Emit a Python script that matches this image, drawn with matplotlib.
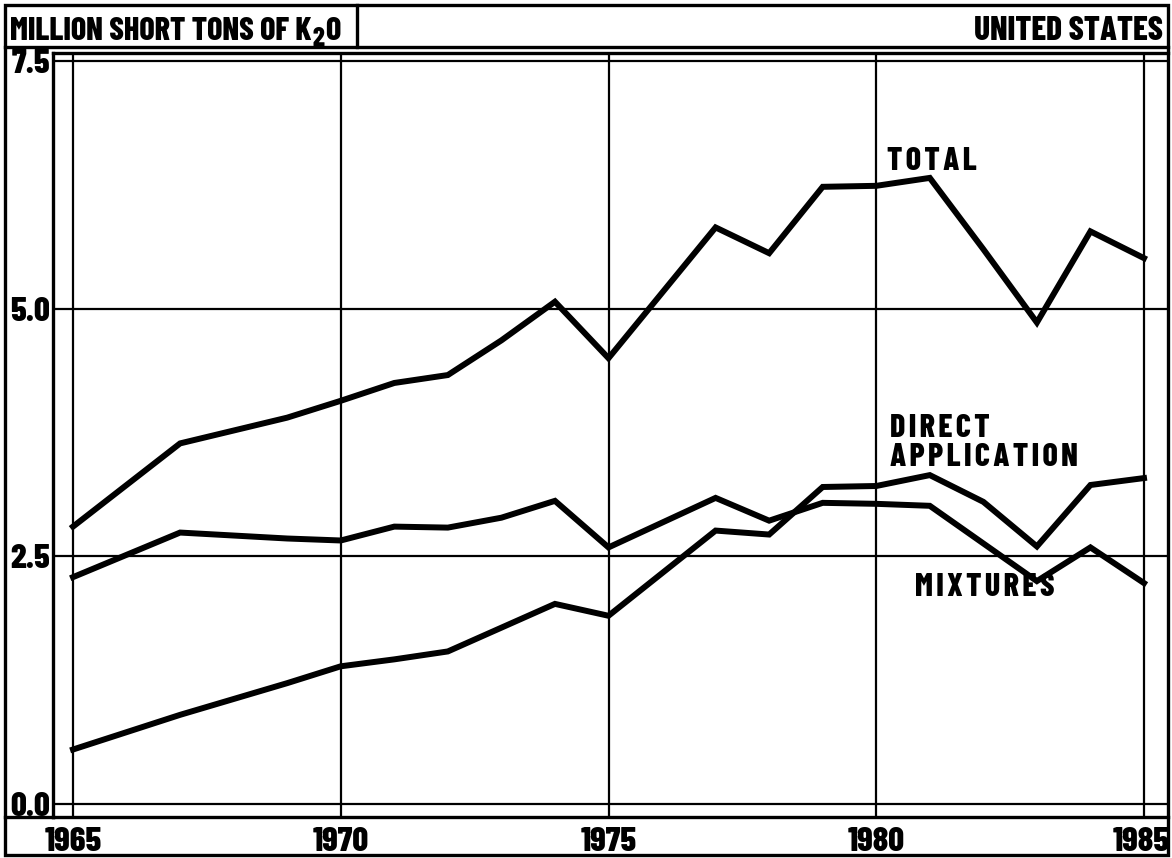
import matplotlib
matplotlib.use("Agg")
import matplotlib.pyplot as plt
from matplotlib.lines import Line2D
from matplotlib.patches import Rectangle
from matplotlib.transforms import ScaledTranslation

# ---------------- data ----------------
years = [1965, 1967, 1969, 1970, 1971, 1972, 1973, 1974, 1975, 1977,
         1978, 1979, 1980, 1981, 1982, 1983, 1984, 1985]
total = [2.80, 3.64, 3.90, 4.07, 4.25, 4.33, 4.68, 5.07, 4.50, 5.82,
         5.56, 6.23, 6.24, 6.32, 5.60, 4.86, 5.78, 5.51]
mixtures = [2.29, 2.74, 2.68, 2.66, 2.80, 2.79, 2.89, 3.06, 2.59, 3.09,
            2.86, 3.04, 3.03, 3.01, 2.63, 2.25, 2.59, 2.23]
direct = [0.55, 0.90, 1.22, 1.39, 1.46, 1.54, 1.78, 2.02, 1.90, 2.76,
          2.72, 3.20, 3.21, 3.32, 3.05, 2.60, 3.22, 3.29]

x_ticks = [1965, 1970, 1975, 1980, 1985]
x_tick_labels = ["1965", "1970", "1975", "1980", "1985"]
y_ticks = [0.0, 2.5, 5.0, 7.5]
y_tick_labels = ["0.0", "2.5", "5.0", "7.5"]

header_left = "MILLION SHORT TONS OF K"
header_sub = "2"
header_end = "O"
header_right = "UNITED STATES"
series_labels = ["TOTAL", "DIRECT\nAPPLICATION", "MIXTURES"]

# ---------------- layout ----------------
W, H = 1172, 858
FONT = ["Barlow Condensed", "Roboto Condensed", "DejaVu Sans"]
WEIGHT = 800
HAIR = "\u200a"
fig = plt.figure(figsize=(W / 100, H / 100), dpi=100)


def fx(x):
    return x / W


def fy(y):
    return 1 - y / H


def spaced(s):
    return "\n".join(HAIR.join(line) for line in s.split("\n"))


ax_left, ax_right, ax_top, ax_bot = 53, 1168, 53, 817
ax = fig.add_axes([fx(ax_left), fy(ax_bot), fx(ax_right - ax_left),
                   (ax_bot - ax_top) / H])

ppy = (1144 - 73) / 20.0
ax.set_xlim(1965 - (73 - ax_left) / ppy, 1985 + (ax_right - 1144) / ppy)
ppv = (804 - 61) / 7.5
ax.set_ylim((804 - ax_bot) / ppv, (804 - ax_top) / ppv)

for s in ax.spines.values():
    s.set_linewidth(2.4)
ax.spines["right"].set_visible(False)

ax.set_xticks(x_ticks)
ax.set_xticklabels(x_tick_labels)
ax.set_yticks(y_ticks)
ax.set_yticklabels(y_tick_labels)
ax.tick_params(length=0, pad=7, axis="x")
ax.tick_params(length=0, pad=2, axis="y")
for lab in ax.get_xticklabels() + ax.get_yticklabels():
    lab.set_fontfamily(FONT)
    lab.set_fontweight(WEIGHT)
    lab.set_fontsize(25)
last = ax.get_xticklabels()[-1]
last.set_transform(last.get_transform() +
                   ScaledTranslation(-3 / 100, 0, fig.dpi_scale_trans))
ax.grid(True, color="black", linewidth=1.6)

lw = 4.3
ax.plot(years, total, color="black", linewidth=lw, solid_joinstyle="miter")
ax.plot(years, mixtures, color="black", linewidth=lw, solid_joinstyle="miter")
ax.plot(years, direct, color="black", linewidth=lw, solid_joinstyle="miter")

lab_kw = dict(fontfamily=FONT, fontweight=WEIGHT, fontsize=23,
              ha="left", va="center", linespacing=1.0)
ax.text(1980.2, 6.49, spaced(series_labels[0]), **lab_kw)
ax.text(1980.26, 3.64, spaced(series_labels[1]), **lab_kw)
ax.text(1980.72, 2.19, spaced(series_labels[2]), **lab_kw)

# ---------------- frame / header ----------------
fig.add_artist(Rectangle((fx(5), fy(855)), fx(1168 - 5), (855 - 5) / H,
                         fill=False, edgecolor="black", linewidth=2.4,
                         transform=fig.transFigure))
fig.add_artist(Line2D([fx(5), fx(1168)], [fy(47), fy(47)], color="black",
                      linewidth=2.4, transform=fig.transFigure))
fig.add_artist(Line2D([fx(357), fx(357)], [fy(5), fy(47)], color="black",
                      linewidth=2.4, transform=fig.transFigure))
fig.add_artist(Line2D([fx(5), fx(ax_left)], [fy(ax_bot), fy(ax_bot)],
                      color="black", linewidth=2.4, transform=fig.transFigure))

hdr_kw = dict(fontfamily=FONT, fontweight=WEIGHT, fontsize=23, va="baseline")
t1 = fig.text(fx(10), fy(40), header_left, ha="left", **hdr_kw)
fig.canvas.draw()
r = fig.canvas.get_renderer()
bb = t1.get_window_extent(r)
x_end = bb.x1 / W
t2 = fig.text(x_end + fx(1), fy(46), header_sub, ha="left",
              fontfamily=FONT, fontweight=WEIGHT, fontsize=19, va="baseline")
bb2 = t2.get_window_extent(r)
fig.text(bb2.x1 / W + fx(1), fy(40), header_end, ha="left", **hdr_kw)
fig.text(fx(1163), fy(40), "UNITED STATES", ha="right",
         fontfamily=FONT, fontweight=WEIGHT, fontsize=24, va="baseline")

fig.savefig("out.png", dpi=100)
